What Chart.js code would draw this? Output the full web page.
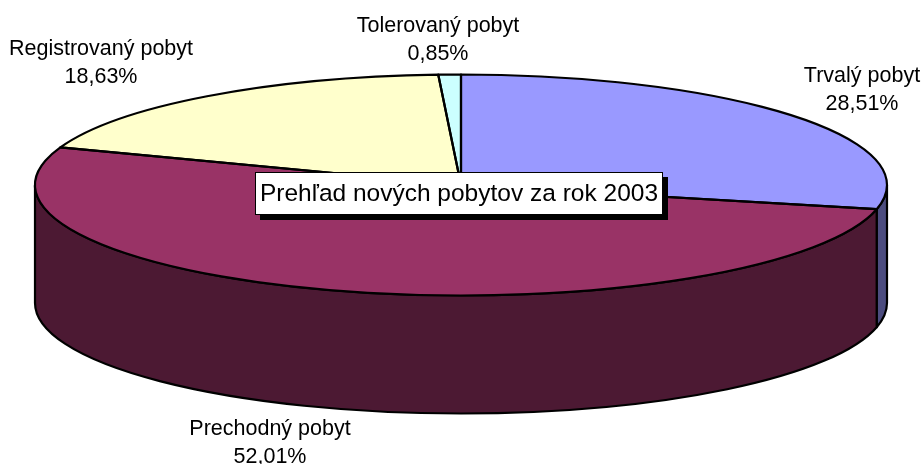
<!DOCTYPE html>
<html>
<head>
<meta charset="utf-8">
<style>html,body{margin:0;padding:0;background:#fff}canvas{display:block}</style>
<script src="https://cdn.jsdelivr.net/npm/chart.js@4/dist/chart.umd.min.js"></script>
</head>
<body>
<canvas id="c" width="923" height="464"></canvas>
<script>
const categories = ["Trvalý pobyt", "Prechodný pobyt", "Registrovaný pobyt", "Tolerovaný pobyt"];
const shares = [28.51, 52.01, 18.63, 0.85];
const shareLabels = ["28,51%", "52,01%", "18,63%", "0,85%"];
const chartTitle = "Prehľad nových pobytov za rok 2003";
const topColors = ["#9999FF", "#993366", "#FFFFCC", "#CCFFFF"];
const sideColors = ["#4C4C7F", "#4C1933", "#7F7F66", "#667F7F"];

const labelAnchors = [[862, 76], [270, 429], [101, 49], [438, 26]];
const disc = { cx: 461, cy: 185, rx: 426, ry: 110.5, depth: 118 };
const titleBox = { x: 255, y: 172, w: 408, h: 43, shadow: 5 };
const LINE = 2.2;

const pie3d = {
  id: "pie3d",
  beforeDatasetsDraw(chart) {
    const ctx = chart.ctx;
    const arcs = chart.getDatasetMeta(0).data;
    const { cx, cy, rx, ry, depth } = disc;
    ctx.save();
    ctx.lineWidth = LINE;
    ctx.strokeStyle = "#000";
    ctx.lineJoin = "round";
    arcs.forEach((arc, i) => {
      const p = arc.getProps(["startAngle", "endAngle"], true);
      // keep only the part of the slice on the front half of the disc
      for (const k of [-2, 0, 2]) {
        const a = Math.max(p.startAngle, k * Math.PI);
        const b = Math.min(p.endAngle, k * Math.PI + Math.PI);
        if (b <= a) continue;
        ctx.beginPath();
        ctx.ellipse(cx, cy, rx, ry, 0, a, b);
        ctx.ellipse(cx, cy + depth, rx, ry, 0, b, a, true);
        ctx.closePath();
        ctx.fillStyle = sideColors[i];
        ctx.fill();
        ctx.stroke();
      }
    });
    ctx.restore();
  },
  beforeDatasetDraw(chart) {
    const ctx = chart.ctx;
    const arc = chart.getDatasetMeta(0).data[0];
    const p = arc.getProps(["x", "y", "outerRadius"], true);
    ctx.save();
    ctx.translate(disc.cx, disc.cy);
    ctx.scale(disc.rx / p.outerRadius, disc.ry / p.outerRadius);
    ctx.translate(-p.x, -p.y);
  },
  afterDatasetDraw(chart) {
    const ctx = chart.ctx;
    ctx.restore();
    const { cx, cy, rx, ry } = disc;
    ctx.save();
    ctx.lineWidth = LINE;
    ctx.strokeStyle = "#000";
    ctx.lineJoin = "round";
    chart.getDatasetMeta(0).data.forEach(arc => {
      const p = arc.getProps(["startAngle", "endAngle"], true);
      ctx.beginPath();
      ctx.moveTo(cx, cy);
      ctx.ellipse(cx, cy, rx, ry, 0, p.startAngle, p.endAngle);
      ctx.closePath();
      ctx.stroke();
    });
    ctx.restore();
  },
  afterDraw(chart) {
    const ctx = chart.ctx;
    ctx.save();
    ctx.fillStyle = "#000";
    ctx.textAlign = "center";
    ctx.textBaseline = "middle";
    ctx.font = "21.5px 'Liberation Sans', Arial, sans-serif";
    categories.forEach((name, i) => {
      const [x, y] = labelAnchors[i];
      ctx.fillText(name, x, y);
      ctx.fillText(shareLabels[i], x, y + 28);
    });
    const t = titleBox;
    ctx.fillStyle = "#000";
    ctx.fillRect(t.x + t.shadow, t.y + t.shadow, t.w, t.h);
    ctx.fillStyle = "#fff";
    ctx.fillRect(t.x, t.y, t.w, t.h);
    ctx.strokeStyle = "#000";
    ctx.lineWidth = 1;
    ctx.strokeRect(t.x + 0.5, t.y + 0.5, t.w - 1, t.h - 1);
    ctx.fillStyle = "#000";
    ctx.font = "24.5px 'Liberation Sans', Arial, sans-serif";
    ctx.fillText(chartTitle, t.x + t.w / 2, t.y + t.h / 2 + 1);
    ctx.restore();
  }
};

new Chart(document.getElementById("c"), {
  type: "pie",
  data: {
    labels: categories,
    datasets: [{ data: shares, backgroundColor: topColors, borderWidth: 0, clip: false }]
  },
  options: {
    responsive: false,
    animation: false,
    layout: { padding: 0 },
    plugins: { legend: { display: false }, tooltip: { enabled: false }, title: { display: false } }
  },
  plugins: [pie3d]
});
</script>
</body>
</html>
